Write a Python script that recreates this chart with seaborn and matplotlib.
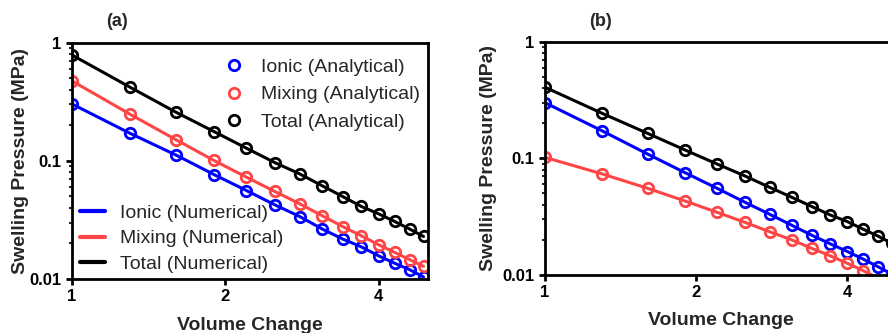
import numpy as np
import pandas as pd
import matplotlib
matplotlib.use("Agg")
import matplotlib.pyplot as plt
import seaborn as sns
from matplotlib.lines import Line2D
from matplotlib.ticker import FixedLocator, FixedFormatter, NullLocator, LogLocator

# ---------------- data ----------------
volume_change = [1.0, 1.3, 1.6, 1.9, 2.2, 2.5, 2.8, 3.1, 3.4, 3.7, 4.0, 4.3, 4.6, 4.9]

a_ionic = [0.303, 0.171, 0.112, 0.0766, 0.0561, 0.0425, 0.0338, 0.0265, 0.0218, 0.0187, 0.0157, 0.0136, 0.0120, 0.0104]
a_mixing = [0.475, 0.248, 0.151, 0.1007, 0.0728, 0.0551, 0.0433, 0.0343, 0.0278, 0.0232, 0.0195, 0.0168, 0.0146, 0.0128]
a_total = [0.787, 0.420, 0.258, 0.177, 0.128, 0.0968, 0.0775, 0.0615, 0.0499, 0.0411, 0.0356, 0.0307, 0.0265, 0.0229]

b_ionic = [0.300, 0.172, 0.109, 0.0754, 0.0554, 0.0421, 0.0332, 0.0267, 0.0219, 0.0185, 0.0159, 0.0137, 0.0118, 0.0102]
b_mixing = [0.102, 0.0735, 0.0554, 0.0431, 0.0345, 0.0283, 0.0235, 0.0200, 0.0169, 0.0146, 0.0126, 0.0109, 0.0094, 0.0083]
b_total = [0.407, 0.243, 0.164, 0.118, 0.0895, 0.0707, 0.0565, 0.0464, 0.0386, 0.0327, 0.0287, 0.0247, 0.0216, 0.0187]

series_names = ["Ionic", "Mixing", "Total"]
colors = {"Ionic": "#0000FF", "Mixing": "#FF4545", "Total": "#000000"}

x_ticks = [1, 2, 4]
x_ticklabels = ["1", "2", "4"]
y_ticks = [0.01, 0.1, 1]
y_ticklabels = ["0.01", "0.1", "1"]

# ---------------- style ----------------
sns.set_theme(style="ticks")
plt.rcParams["font.family"] = ["Liberation Sans", "DejaVu Sans"]

W, H = 888, 333
fig = plt.figure(figsize=(W / 100, H / 100), dpi=100)

def px_axes(left, right, top, bottom):
    return fig.add_axes([left / W, (H - bottom) / H, (right - left) / W, (bottom - top) / H])

ax_a = px_axes(72, 428, 42.7, 279)
ax_b = px_axes(545, 896, 41.7, 275)

panels = [
    (ax_a, {"Ionic": a_ionic, "Mixing": a_mixing, "Total": a_total}, "(a)", 117),
    (ax_b, {"Ionic": b_ionic, "Mixing": b_mixing, "Total": b_total}, "(b)", 600),
]

LW = 2.2
MS = 7.5
MEW = 2.0

for ax, data, title, tx in panels:
    for name in series_names:
        df = pd.DataFrame({"x": volume_change, "y": data[name]})
        sns.lineplot(data=df, x="x", y="y", ax=ax, color=colors[name], lw=LW,
                     estimator=None, sort=False, legend=False)
        dfm = df[df["y"] >= 0.01]
        sns.lineplot(data=dfm, x="x", y="y", ax=ax, color=colors[name], ls="none",
                     marker="o", markersize=MS, markerfacecolor="none",
                     markeredgecolor=colors[name], markeredgewidth=MEW,
                     estimator=None, sort=False, legend=False)
    ax.set_xscale("log")
    ax.set_yscale("log")
    ax.set_xlim(1, 5)
    ax.set_ylim(0.01, 1)
    ax.xaxis.set_major_locator(FixedLocator(x_ticks))
    ax.xaxis.set_major_formatter(FixedFormatter(x_ticklabels))
    ax.xaxis.set_minor_locator(NullLocator())
    ax.yaxis.set_major_locator(FixedLocator(y_ticks))
    ax.yaxis.set_major_formatter(FixedFormatter(y_ticklabels))
    ax.yaxis.set_minor_locator(LogLocator(base=10, subs=np.arange(2, 10)))
    ax.yaxis.set_minor_formatter(FixedFormatter([]))
    for s in ax.spines.values():
        s.set_linewidth(2.0)
        s.set_color("black")
        s.set_visible(True)
    ax.tick_params(axis="both", which="major", direction="out", length=4.5, width=2.0,
                   labelsize=12, pad=3, colors="black")
    ax.tick_params(axis="y", which="minor", direction="out", length=2.5, width=1.5)
    for lab in ax.get_xticklabels() + ax.get_yticklabels():
        lab.set_fontweight("bold")
    ax.set_xlabel("Volume Change", fontsize=14, fontweight="bold")
    ax.set_ylabel("Swelling Pressure (MPa)", fontsize=14, fontweight="bold")
    ax.grid(False)
    ax.set_facecolor("white")
    fig.text(tx / W, 1 - 22 / H, title, ha="center", va="center", fontsize=13, fontweight="bold")

ax_a.yaxis.set_label_coords(-0.12, 0.5)
ax_b.yaxis.set_label_coords(-0.137, 0.5)
ax_a.xaxis.set_label_coords(0.5, -0.16)
ax_b.xaxis.set_label_coords(0.5, -0.16)

# legends in panel (a)
LFS = 14
h_an = [Line2D([], [], ls="none", marker="o", markersize=MS, markerfacecolor="none",
               markeredgecolor=colors[n], markeredgewidth=MEW) for n in series_names]
leg1 = ax_a.legend(h_an, [f"{n} (Analytical)" for n in series_names], loc="upper left",
                   bbox_to_anchor=(0.393, 0.966), frameon=False, fontsize=LFS,
                   handlelength=1.45, handletextpad=0.7, labelspacing=0.5, borderpad=0.4,
                   borderaxespad=0)
ax_a.add_artist(leg1)
h_num = [Line2D([], [], color=colors[n], lw=3.0) for n in series_names]
ax_a.legend(h_num, [f"{n} (Numerical)" for n in series_names], loc="lower left",
            bbox_to_anchor=(0.0, -0.008), frameon=False, fontsize=LFS,
            handlelength=1.3, handletextpad=0.78, labelspacing=0.42, borderpad=0.4,
            borderaxespad=0)

fig.savefig("out.png", dpi=100, facecolor="white")
